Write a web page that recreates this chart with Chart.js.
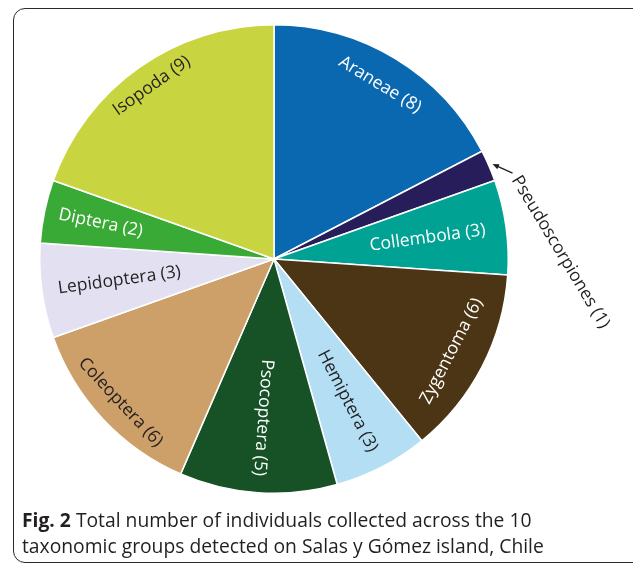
<!DOCTYPE html>
<html>
<head>
<meta charset="utf-8">
<script src="https://cdn.jsdelivr.net/npm/chart.js@4"></script>
<style>
    html, body { margin: 0; padding: 0; background: #fff; }
    body { width: 633px; height: 565px; position: relative; overflow: hidden; font-family: "Open Sans", sans-serif; }
    #frame {
        position: absolute; left: 13px; top: 8px; width: 660px; height: 555px;
        border: 1.5px solid #2b2b2b; border-radius: 12px; box-sizing: border-box;
    }
    #chartBox { position: absolute; left: 0; top: 0; width: 633px; height: 565px; }
    #caption {
        position: absolute; left: 22px; top: 507px; margin: 0;
        font-size: 19.3px; line-height: 26px; color: #231f20;
    }
    #caption b { font-weight: 700; }
</style>
</head>
<body>
<div id="frame"></div>
<div id="chartBox"><canvas id="pieChart" width="633" height="565"></canvas></div>
<p id="caption"><b>Fig. 2</b> Total number of individuals collected across the 10<br>taxonomic groups detected on Salas y Gómez island, Chile</p>

<script>
// Dados do gráfico
const categories = ['Araneae', 'Pseudoscorpiones', 'Collembola', 'Zygentoma', 'Hemiptera',
    'Psocoptera', 'Coleoptera', 'Lepidoptera', 'Diptera', 'Isopoda'];
const counts = [8, 1, 3, 6, 3, 5, 6, 3, 2, 9];
const sliceColors = ['#0a68b0', '#261d5a', '#00a294', '#4b3515', '#b3def3',
    '#175126', '#cda069', '#e3e1f1', '#3aaa36', '#c9d540'];

// Posição dos rótulos (modo, raio, cor)
const labelLayout = [
    { mode: 'tangent', r: 204, color: '#ffffff' },
    { mode: 'outside', r: 0, color: '#231f20' },
    { mode: 'radial', r: 155, color: '#ffffff' },
    { mode: 'tangent', r: 200, color: '#ffffff' },
    { mode: 'radial', r: 160, color: '#231f20' },
    { mode: 'radial', r: 159, color: '#ffffff' },
    { mode: 'tangent', r: 210, color: '#231f20' },
    { mode: 'radial', r: 156, color: '#231f20' },
    { mode: 'radial', r: 177, color: '#ffffff' },
    { mode: 'tangent', r: 212, color: '#231f20' }
];

const sliceLabels = {
    id: 'sliceLabels',
    afterDatasetsDraw(chart) {
        const ctx = chart.ctx;
        const meta = chart.getDatasetMeta(0);
        ctx.save();
        ctx.font = '17.5px "Open Sans", sans-serif';
        ctx.textAlign = 'center';
        ctx.textBaseline = 'middle';
        meta.data.forEach((arc, i) => {
            const p = arc.getProps(['x', 'y', 'startAngle', 'endAngle', 'outerRadius'], true);
            const mid = (p.startAngle + p.endAngle) / 2;      // ângulo do canvas
            const theta = mid + Math.PI / 2;                   // ângulo a partir do topo
            const text = categories[i] + ' (' + counts[i] + ')';
            const layout = labelLayout[i];
            ctx.fillStyle = layout.color;

            if (layout.mode === 'outside') {
                // seta apontando para a fatia
                const tipX = p.x + (p.outerRadius + 4) * Math.cos(mid);
                const tipY = p.y + (p.outerRadius + 4) * Math.sin(mid);
                const tailX = tipX + 20, tailY = tipY + 9;
                ctx.strokeStyle = '#231f20';
                ctx.lineWidth = 1.3;
                ctx.beginPath();
                ctx.moveTo(tailX, tailY);
                ctx.lineTo(tipX + 4, tipY + 1.8);
                ctx.stroke();
                const a = Math.atan2(tipY - tailY, tipX - tailX);
                ctx.beginPath();
                ctx.moveTo(tipX, tipY);
                ctx.lineTo(tipX - 7 * Math.cos(a - 0.4), tipY - 7 * Math.sin(a - 0.4));
                ctx.lineTo(tipX - 7 * Math.cos(a + 0.4), tipY - 7 * Math.sin(a + 0.4));
                ctx.closePath();
                ctx.fill();
                ctx.save();
                ctx.translate(tipX + 68, tipY + 88);
                ctx.rotate(59 * Math.PI / 180);
                ctx.fillText(text, 0, 0);
                ctx.restore();
                return;
            }

            const x = p.x + layout.r * Math.cos(mid);
            const y = p.y + layout.r * Math.sin(mid);
            let rot;
            if (layout.mode === 'tangent') {
                rot = theta;
                if (theta > Math.PI / 2 && theta < 3 * Math.PI / 2) rot = theta - Math.PI;
            } else {
                rot = theta - Math.PI / 2;
                if (theta > Math.PI * 1.15) rot = theta - 3 * Math.PI / 2;
            }
            ctx.save();
            ctx.translate(x, y);
            ctx.rotate(rot);
            ctx.fillText(text, 0, 0);
            ctx.restore();
        });
        ctx.restore();
    }
};

const ctx = document.getElementById('pieChart').getContext('2d');
new Chart(ctx, {
    type: 'pie',
    data: {
        labels: categories,
        datasets: [{
            data: counts,
            backgroundColor: sliceColors,
            borderColor: '#ffffff',
            borderWidth: 1.5
        }]
    },
    options: {
        responsive: false,
        animation: false,
        layout: { padding: { left: 39, right: 124, top: 24, bottom: 71 } },
        plugins: {
            legend: { display: false },
            tooltip: { enabled: false }
        }
    },
    plugins: [sliceLabels]
});
</script>
</body>
</html>
